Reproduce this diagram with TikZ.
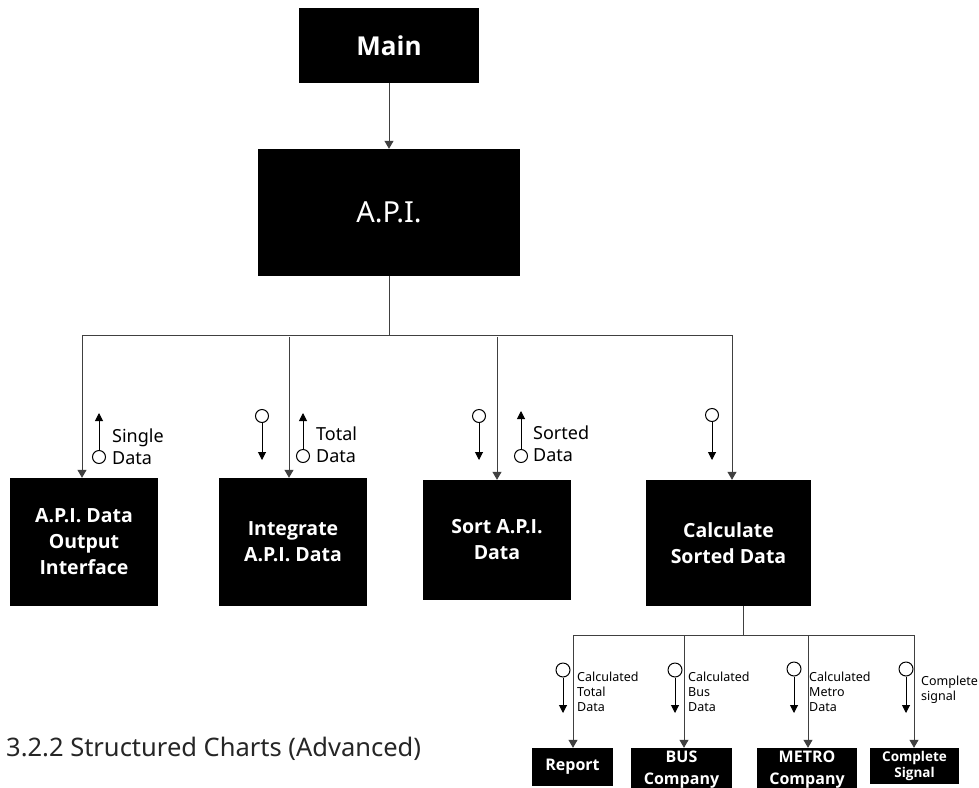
\documentclass[tikz,border=0pt]{standalone}
\usepackage{fontspec}
\setmainfont{Noto Sans}
\newfontfamily\boldfam{Open Sans}
\usetikzlibrary{arrows.meta}
\newcommand\myfs[2]{\fontsize{#1}{#2}\selectfont}
\begin{document}
\begin{tikzpicture}[x=1pt,y=-1pt,
  blk/.style={fill=black, draw=none, text=white, inner sep=0pt, align=center},
  conn/.style={draw=black!75, line width=1pt},
  arr/.style={conn, -{Triangle[length=8pt,width=9pt]}},
  couple/.style={circle, draw=black, line width=1pt, minimum size=13pt, inner sep=0pt},
  bcouple/.style={couple, minimum size=14pt},
  carr/.style={draw=black, line width=1pt, -{Triangle[length=8pt,width=8pt]}},
  lbl/.style={anchor=north west, align=left, inner sep=0pt, font=\myfs{18}{22}},
  slbl/.style={anchor=north west, align=left, inner sep=0pt, font=\myfs{12.5}{15}},
  midbox/.style={blk, font=\boldfam\bfseries\myfs{19.5}{26}},
  botbox/.style={blk, font=\boldfam\bfseries\myfs{16}{22}}]
\clip (0,0) rectangle (979,787);
\fill[white] (0,0) rectangle (979,787);
% top
\node[blk, minimum width=180pt, minimum height=75pt, font=\boldfam\bfseries\myfs{26}{30}] (main) at (389,45.5) {Main};
\node[blk, minimum width=262pt, minimum height=127pt, font=\myfs{29}{32}] (api) at (389,212.5) {A.P.I.};
\draw[arr] (main) -- (api);
% middle row
\node[midbox, minimum width=148pt, minimum height=128pt] (b1) at (84,542) {A.P.I. Data\\Output\\Interface};
\node[midbox, minimum width=148pt, minimum height=128pt] (b2) at (293,542) {Integrate\\A.P.I. Data};
\node[midbox, minimum width=148pt, minimum height=120pt] (b3) at (497,540) {Sort A.P.I.\\Data};
\node[midbox, minimum width=165pt, minimum height=126pt] (b4) at (728.5,543) {Calculate\\Sorted Data};
\coordinate (j0) at (389,335);
\coordinate (bL) at (82,335);
\coordinate (bR) at (732,335);
\coordinate (t2) at (289,337);
\coordinate (t3) at (497,337);
\draw[conn] (api.south) -- (j0);
\draw[conn] (bL) -- (bR);
\draw[arr] (bL) -- (bL |- b1.north);
\draw[arr] (t2) -- (t2 |- b2.north);
\draw[arr] (t3) -- (t3 |- b3.north);
\draw[arr] (bR) -- (bR |- b4.north);
% middle couples
\node[couple] (c1) at (99,457) {};
\coordinate (c1t) at (99,413);
\draw[carr] (c1) -- (c1t);
\node[lbl] (l1) at (112,429) {Single\\Data};
\node[couple] (c2) at (262,416) {};
\coordinate (c2t) at (262,460);
\draw[carr] (c2) -- (c2t);
\node[couple] (c3) at (303,456) {};
\coordinate (c3t) at (303,413);
\draw[carr] (c3) -- (c3t);
\node[lbl] (l2) at (316,427) {Total\\Data};
\node[couple] (c4) at (479,416) {};
\coordinate (c4t) at (479,460);
\draw[carr] (c4) -- (c4t);
\node[couple] (c5) at (521,456) {};
\coordinate (c5t) at (521,411);
\draw[carr] (c5) -- (c5t);
\node[lbl] (l3) at (533,426) {Sorted\\Data};
\node[couple] (c6) at (712,415) {};
\coordinate (c6t) at (712,460);
\draw[carr] (c6) -- (c6t);
% bottom row
\node[botbox, minimum width=81pt, minimum height=38pt] (r1) at (572.5,767) {Report};
\node[botbox, minimum width=101pt, minimum height=44pt] (r2) at (681.5,770) {BUS\\Company};
\node[botbox, minimum width=100pt, minimum height=44pt] (r3) at (807,770) {METRO\\Company};
\node[blk, font=\boldfam\bfseries\myfs{13.5}{16}, minimum width=89pt, minimum height=36pt] (r4) at (914.5,766) {Complete\\Signal};
\coordinate (k0) at (743,635);
\coordinate (kL) at (573,635);
\coordinate (kR) at (914,635);
\coordinate (k2) at (684,635);
\coordinate (k3) at (808,635);
\draw[conn] (b4.south -| k0) -- (k0);
\draw[conn] (kL) -- (kR);
\draw[arr] (kL) -- (kL |- r1.north);
\draw[arr] (k2) -- (k2 |- r2.north);
\draw[arr] (k3) -- (k3 |- r3.north);
\draw[arr] (kR) -- (kR |- r4.north);
% bottom couples
\node[bcouple] (d1) at (563,670) {};
\coordinate (d1t) at (563,713);
\draw[carr] (d1) -- (d1t);
\node[slbl] (m1) at (577,671.5) {Calculated\\Total\\Data};
\node[bcouple] (d2) at (675,670) {};
\coordinate (d2t) at (675,713);
\draw[carr] (d2) -- (d2t);
\node[slbl] (m2) at (688,671.5) {Calculated\\Bus\\Data};
\node[bcouple] (d3) at (794,669) {};
\coordinate (d3t) at (794,713);
\draw[carr] (d3) -- (d3t);
\node[slbl] (m3) at (809,671.5) {Calculated\\Metro\\Data};
\node[bcouple] (d4) at (906,669) {};
\coordinate (d4t) at (906,713);
\draw[carr] (d4) -- (d4t);
\node[slbl] (m4) at (921,675.5) {Complete\\signal};
% caption
\node[anchor=base west, inner sep=0pt, font=\myfs{25.5}{30}, text=black!85] (cap) at (6,756) {3.2.2 Structured Charts (Advanced)};
\end{tikzpicture}
\end{document}
